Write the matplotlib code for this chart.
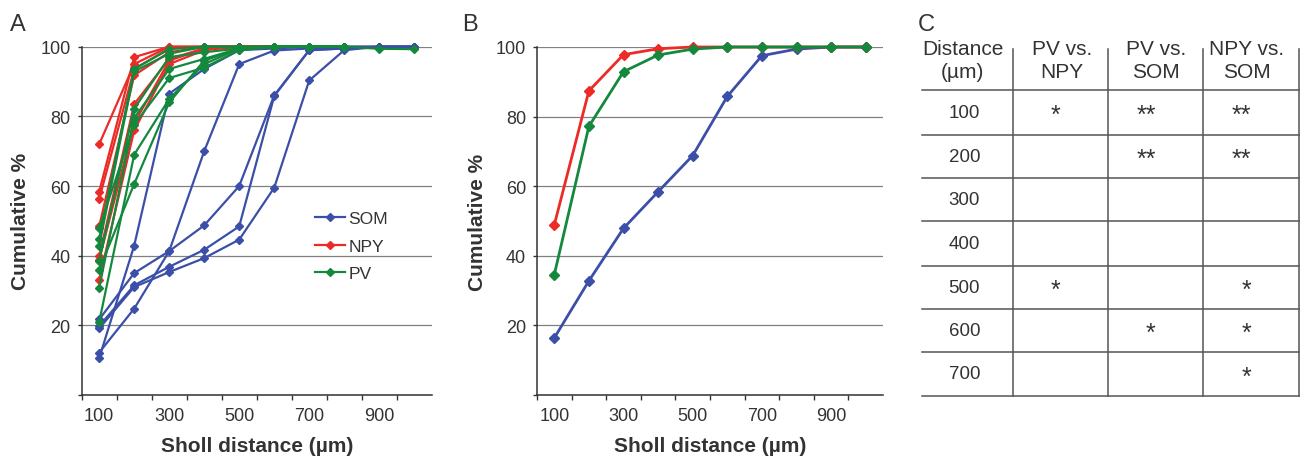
import numpy as np
import matplotlib
matplotlib.use("Agg")
import matplotlib.pyplot as plt

plt.rcParams['font.family'] = ['Liberation Sans', 'DejaVu Sans']

# ---- data ----
distances = [100, 200, 300, 400, 500, 600, 700, 800, 900, 1000]
xtick_labels = ["100", "300", "500", "700", "900"]

# panel A: individual cells (cumulative %)
som_cells = [
    [10.6, 42.9, 86.5, 93.6, 99.0, 99.5, 100, 100, 100, 100],
    [12.2, 24.8, 41.3, 70.0, 95.0, 98.9, 99.5, 100, 100, 100],
    [21.7, 35.0, 41.3, 48.7, 60.0, 86.0, 99.0, 99.5, 100, 100],
    [19.8, 31.5, 36.8, 41.7, 48.4, 85.8, 99.0, 99.5, 100, 100],
    [19.1, 31.0, 35.3, 39.3, 44.6, 59.5, 90.3, 99.0, 100, 100],
]
npy_cells = [
    [72.0, 95.0, 100, 100, 100, 100, 100],
    [58.4, 97.0, 100, 100, 100, 100, 100],
    [56.3, 93.6, 99.5, 100, 100, 100, 100],
    [48.4, 91.8, 98.4, 100, 100, 100, 100],
    [39.8, 83.5, 96.5, 99.5, 100, 100, 100],
    [38.9, 78.0, 96.0, 99.5, 100, 100, 100],
    [33.1, 76.0, 95.0, 99.0, 100, 100, 100],
]
pv_cells = [
    [44.9, 93.6, 99.3, 100, 100, 100, 100, 100, 99.4, 99.3],
    [42.9, 92.9, 98.0, 100, 100, 100, 100, 100],
    [38.6, 82.2, 97.0, 98.4, 99.5, 100, 100, 100],
    [30.8, 79.5, 93.6, 96.5, 99.5, 100, 100, 100],
    [21.0, 69.0, 85.0, 95.0, 99.5, 100, 100, 100],
    [48.0, 77.6, 91.0, 94.0, 99.0, 100, 100, 100],
    [36.0, 60.6, 84.0, 96.0, 99.5, 100, 100, 100],
]

# panel B: averages
som_mean = [16.4, 32.8, 47.9, 58.4, 68.8, 85.8, 97.5, 99.4, 100, 100]
npy_mean = [48.9, 87.4, 97.8, 99.5, 100, 100, 100, 100, 100, 100]
pv_mean = [34.6, 77.2, 92.9, 97.7, 99.4, 100, 100, 100, 100, 100]

# panel C: significance table
table_header = ["Distance\n(µm)", "PV vs.\nNPY", "PV vs.\nSOM", "NPY vs.\nSOM"]
table_rows = ["100", "200", "300", "400", "500", "600", "700"]
table_stars = [
    ["*", "**", "**"],
    ["", "**", "**"],
    ["", "", ""],
    ["", "", ""],
    ["*", "", "*"],
    ["", "*", "*"],
    ["", "", "*"],
]

c_som = "#3c4fa8"
c_npy = "#ec2a26"
c_pv = "#14893d"
txt = "#333333"

W, H = 1304, 460
fig = plt.figure(figsize=(W / 100, H / 100), dpi=100)

xpos = np.arange(len(distances)) + 0.5


def setup(ax):
    ax.set_xlim(0, len(distances))
    ax.set_ylim(0, 100)
    ax.set_yticks(range(0, 101, 20))
    ax.set_yticklabels([""] + [str(v) for v in range(20, 101, 20)])
    ax.yaxis.grid(True, color="#808080", lw=0.9)
    ax.set_axisbelow(True)
    ax.set_xticks(np.arange(len(distances)))
    ax.set_xticklabels([])
    ax.set_xticks(xpos[::2], minor=True)
    ax.set_xticklabels(xtick_labels, minor=True)
    ax.tick_params(axis="x", which="major", direction="out", length=3.5, width=1, color="#333333")
    ax.tick_params(axis="x", which="minor", length=0, pad=9, labelsize=13, labelcolor=txt)
    ax.tick_params(axis="y", direction="out", length=3, width=1, color="#333333", pad=5,
                   labelsize=13, labelcolor=txt)
    for s in ["top", "right"]:
        ax.spines[s].set_visible(False)
    for s in ["left", "bottom"]:
        ax.spines[s].set_color("#333333")
        ax.spines[s].set_linewidth(1.1)
    ax.set_xlabel("Sholl distance (µm)", fontsize=15, fontweight="bold", color=txt)
    ax.set_ylabel("Cumulative %", fontsize=15, fontweight="bold", color=txt)
    ax.xaxis.label.set_va("center")
    ax.yaxis.label.set_va("center")


def fig_rect(x0, y0, x1, y1):
    return [x0 / W, 1 - y1 / H, (x1 - x0) / W, (y1 - y0) / H]


# ---- A ----
axA = fig.add_axes(fig_rect(81.7, 47.7, 431.7, 396))
setup(axA)
axA.xaxis.set_label_coords(0.5, -0.145)
axA.yaxis.set_label_coords(-0.176, 0.5)
handles = []
for cells, col, name in [(som_cells, c_som, "SOM"), (npy_cells, c_npy, "NPY"), (pv_cells, c_pv, "PV")]:
    for i, v in enumerate(cells):
        ln, = axA.plot(xpos[:len(v)], v, color=col, lw=1.6, marker="D", ms=4,
                       clip_on=False, label=name if i == 0 else None)
        if i == 0:
            handles.append(ln)
axA.legend(handles=handles, loc="upper left", bbox_to_anchor=(315 / W, 1 - 212 / H),
           bbox_transform=fig.transFigure, frameon=False, fontsize=12.6, handlelength=1.7,
           handletextpad=0.2, labelspacing=0.7, borderpad=0, borderaxespad=0, labelcolor=txt)

# ---- B ----
axB = fig.add_axes(fig_rect(537, 48, 883, 396))
setup(axB)
axB.xaxis.set_label_coords(0.5, -0.145)
axB.yaxis.set_label_coords(-0.171, 0.5)
for v, col in [(som_mean, c_som), (npy_mean, c_npy), (pv_mean, c_pv)]:
    axB.plot(xpos[:len(v)], v, color=col, lw=2, marker="D", ms=5.5, clip_on=False)

# ---- panel letters ----
for x, s in [(10, "A"), (462, "B"), (918, "C")]:
    fig.text(x / W, 1 - 25 / H, s, fontsize=17, va="center", ha="left", color=txt)

# ---- C: table ----
tax = fig.add_axes([0, 0, 1, 1])
tax.set_xlim(0, W)
tax.set_ylim(H, 0)
tax.axis("off")
tax.patch.set_visible(False)

line_x0 = 921.7
col_lines = [1012.7, 1108.3, 1203.3, 1299.3]
row_lines = [91, 136, 179, 222.3, 266.7, 310, 353.3, 396.7]
head_x = [962.7, 1061.7, 1156, 1246.7]
lc = "#555555"

for y in row_lines:
    tax.plot([line_x0, col_lines[-1]], [y, y], color=lc, lw=1.1)
for x in col_lines:
    tax.plot([x, x], [50, row_lines[-1]], color=lc, lw=1.1)

for x, h in zip(head_x, table_header):
    tax.text(x, 61, h, ha="center", va="center", fontsize=15, color=txt,
             multialignment="center", linespacing=1.3)

col_centers = [(col_lines[i] + col_lines[i + 1]) / 2 for i in range(3)]
for r, (lab, stars) in enumerate(zip(table_rows, table_stars)):
    yc = (row_lines[r] + row_lines[r + 1]) / 2
    tax.text(964.3, yc, lab, ha="center", va="center", fontsize=13.5, color=txt)
    for c, s in enumerate(stars):
        if not s:
            continue
        off = -5 if len(s) == 1 else -9.7
        tax.text(col_centers[c] + off, yc + 9.5, s, ha="center", va="baseline",
                 fontsize=18, color=txt)

fig.savefig("out.png", dpi=100)
